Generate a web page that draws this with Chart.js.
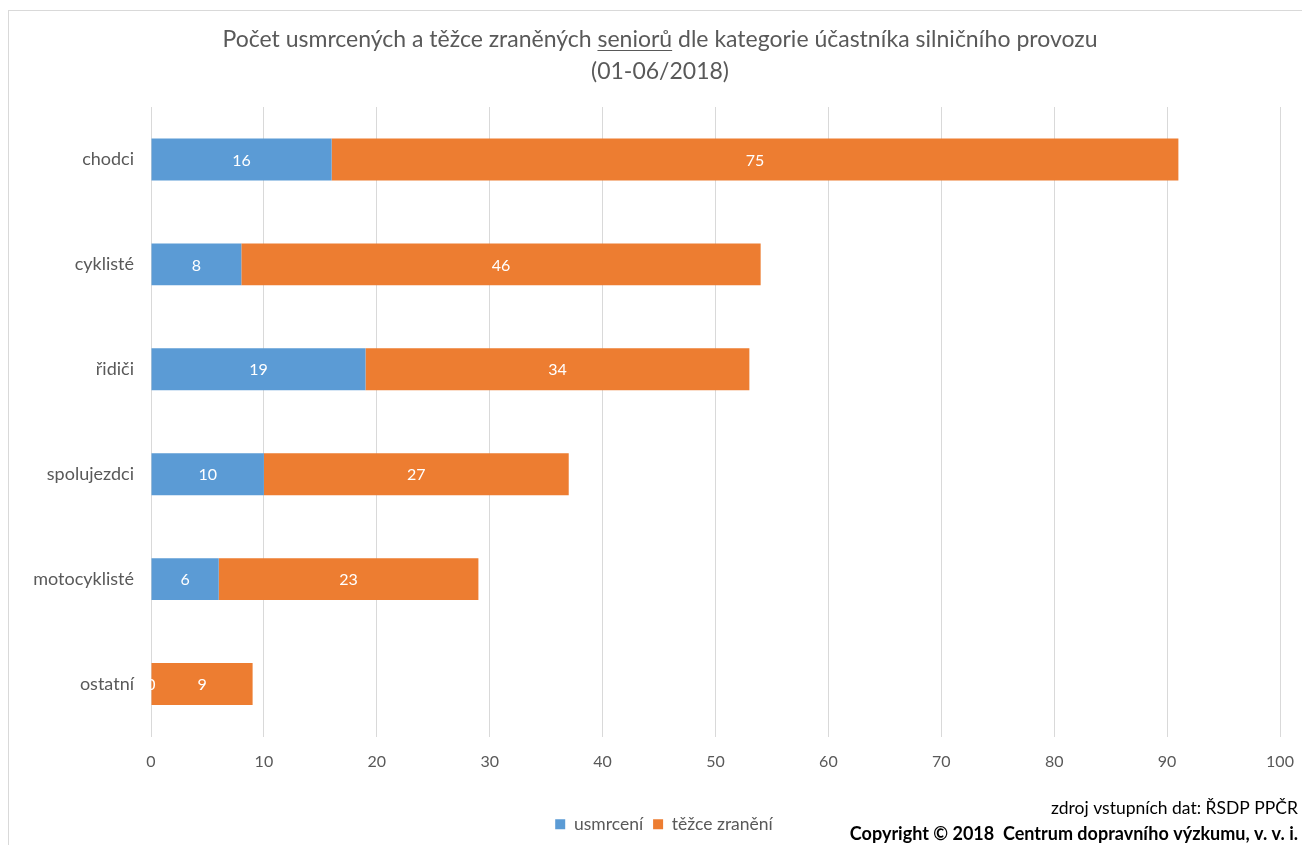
<!DOCTYPE html>
<html>
<head>
<meta charset="utf-8">
<script src="https://cdn.jsdelivr.net/npm/chart.js@4"></script>
<style>
  html, body { margin: 0; padding: 0; background: #fff; }
  #wrap { width: 1302px; height: 845px; position: relative; }
</style>
</head>
<body>
<div id="wrap"><canvas id="myChart" width="1302" height="845"></canvas></div>
<script>
// categories (top to bottom) and series values
const categories = ['chodci', 'cyklisté', 'řidiči', 'spolujezdci', 'motocyklisté', 'ostatní'];
const usmrceni = [16, 8, 19, 10, 6, 0];
const tezceZraneni = [75, 46, 34, 27, 23, 9];
const titleLines = ['Počet usmrcených a těžce zraněných seniorů dle kategorie účastníka silničního provozu', '(01-06/2018)'];
const sourceLines = ['zdroj vstupních dat: ŘSDP PPČR', 'Copyright © 2018  Centrum dopravního výzkumu, v. v. i.'];

const FONT = 'Lato, "Open Sans", sans-serif';
const grey = '#595959';
const TITLE_SIZE = 23;
const TITLE_PAD_TOP = 24;
const TITLE_LINE = 32;

// frame around the whole chart, like the office export
const framePlugin = {
    id: 'frame',
    beforeDraw(chart) {
        const c = chart.ctx;
        c.save();
        c.strokeStyle = '#d9d9d9';
        c.lineWidth = 1;
        c.strokeRect(8.5, 10.5, 1400, 900);
        c.restore();
    }
};

// legend and title in the original sit a bit right of centre
const shiftPlugin = {
    id: 'shift',
    afterLayout(chart) {
        chart.legend.left += 20;
        chart.legend.right += 20;
        chart.titleBlock.left += 16;
        chart.titleBlock.right += 16;
    }
};

// white numbers in the middle of every bar segment
const labelPlugin = {
    id: 'segLabels',
    afterDatasetsDraw(chart) {
        const c = chart.ctx;
        c.save();
        c.font = '16px ' + FONT;
        c.fillStyle = '#ffffff';
        c.textAlign = 'center';
        c.textBaseline = 'middle';
        chart.data.datasets.forEach((ds, i) => {
            chart.getDatasetMeta(i).data.forEach((bar, j) => {
                c.fillText(String(ds.data[j]), (bar.x + bar.base) / 2, bar.y + 1);
            });
        });
        c.restore();
    }
};

// underline "seniorů" in the title + source / copyright note
const extrasPlugin = {
    id: 'extras',
    afterDraw(chart) {
        const c = chart.ctx;
        c.save();
        // underline
        const t = chart.titleBlock;
        c.font = TITLE_SIZE + 'px ' + FONT;
        const line = titleLines[0];
        const full = c.measureText(line).width;
        const startX = (t.left + t.right) / 2 - full / 2;
        const before = line.indexOf('seniorů');
        const x0 = startX + c.measureText(line.slice(0, before)).width;
        const w = c.measureText('seniorů').width;
        const y = Math.round(t.top + TITLE_PAD_TOP + TITLE_LINE / 2 + 10);
        c.strokeStyle = grey;
        c.lineWidth = 1;
        c.beginPath();
        c.moveTo(x0, y + 0.5);
        c.lineTo(x0 + w, y + 0.5);
        c.stroke();
        // source text
        c.textAlign = 'right';
        c.textBaseline = 'middle';
        c.fillStyle = '#000';
        c.font = '17.5px ' + FONT;
        c.fillText(sourceLines[0], 1298, 808);
        c.font = 'bold 18px ' + FONT;
        c.fillText(sourceLines[1], 1298, 834);
        c.restore();
    }
};

const ctx = document.getElementById('myChart');
new Chart(ctx, {
    type: 'bar',
    data: {
        labels: categories,
        datasets: [
            {
                label: 'usmrcení',
                data: usmrceni,
                backgroundColor: '#5B9BD5',
                barPercentage: 0.8,
                categoryPercentage: 0.5
            },
            {
                label: 'těžce zranění',
                data: tezceZraneni,
                backgroundColor: '#ED7D31',
                barPercentage: 0.8,
                categoryPercentage: 0.5
            }
        ]
    },
    options: {
        indexAxis: 'y',
        responsive: false,
        animation: false,
        layout: { padding: { left: 8, right: 22, top: 0, bottom: 2 } },
        scales: {
            x: {
                stacked: true,
                min: 0,
                max: 100,
                ticks: { stepSize: 10, color: grey, font: { family: FONT, size: 16 }, padding: 16 },
                grid: { color: '#d9d9d9', drawTicks: false },
                border: { display: false },
                afterFit(scale) {
                    scale.height = 69;
                    scale.paddingRight = 0;
                    scale.paddingLeft = 0;
                }
            },
            y: {
                stacked: true,
                ticks: { color: grey, font: { family: FONT, size: 18 }, padding: 9 },
                grid: { display: false },
                border: { color: '#d9d9d9' },
                afterFit(scale) { scale.width = 143; }
            }
        },
        plugins: {
            title: {
                display: true,
                text: titleLines,
                color: grey,
                font: { family: FONT, size: TITLE_SIZE, weight: 'normal', lineHeight: TITLE_LINE + 'px' },
                padding: { top: TITLE_PAD_TOP, bottom: 19 }
            },
            legend: {
                position: 'bottom',
                labels: {
                    color: grey,
                    font: { family: FONT, size: 17.5 },
                    boxWidth: 10,
                    boxHeight: 10,
                    padding: 10
                }
            },
            tooltip: { enabled: false }
        }
    },
    plugins: [framePlugin, shiftPlugin, labelPlugin, extrasPlugin]
});
</script>
</body>
</html>
